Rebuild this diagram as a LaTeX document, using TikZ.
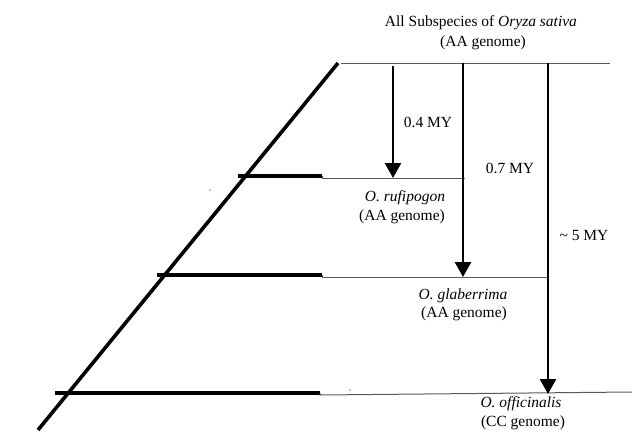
\documentclass[tikz,border=0pt]{standalone}
\usepackage{fontspec}
\setmainfont{Liberation Serif}
\usetikzlibrary{arrows.meta}
\begin{document}
\begin{tikzpicture}[x=1pt,y=-1pt,
  thin line/.style={line width=1pt,draw=black!65},
  thick line/.style={line width=4pt},
  arrowline/.style={line width=2.7pt,-{Triangle[width=16pt,length=15pt]}},
  lbl/.style={font=\fontsize{15.5}{18}\selectfont,inner sep=0pt,anchor=center}]
\useasboundingbox (0,0) rectangle (632,434);
% diagonal
\coordinate (dtop) at (338,63);
\coordinate (dbot) at (38,430);
\draw[line width=3.6pt] (dbot) -- (dtop);
% top line
\coordinate (t0) at (341,63);
\coordinate (t1) at (610,63);
\draw[thin line] (t0) -- (t1);
% rufipogon branch
\coordinate (r0) at (238,176);
\coordinate (r1) at (322,176);
\coordinate (r2) at (465,178);
\draw[thick line] (r0) -- (r1);
\draw[thin line] (r1) -- (322,178) -- (r2);
% glaberrima branch
\coordinate (g0) at (157,275);
\coordinate (g1) at (322,275);
\coordinate (g2) at (549,277);
\draw[thick line] (g0) -- (g1);
\draw[thin line] (g1) -- (322,277) -- (g2);
% officinalis branch
\coordinate (o0) at (55,393);
\coordinate (o1) at (320,393);
\coordinate (o2) at (632,392);
\draw[thick line] (o0) -- (o1);
\draw[thin line] (o1) -- (320,395) -- (o2);
% arrows
\coordinate (a1s) at (393,66);
\coordinate (a1e) at (393,178);
\coordinate (a2s) at (463,63);
\coordinate (a2e) at (463,277);
\coordinate (a3s) at (548,63);
\coordinate (a3e) at (548,394);
\draw[arrowline] (a1s) -- (a1e);
\draw[arrowline] (a2s) -- (a2e);
\draw[arrowline] (a3s) -- (a3e);
% labels
\node[lbl] (l1) at (428,122) {0.4 MY};
\node[lbl] (l2) at (510,168) {0.7 MY};
\node[lbl] (l3) at (584,235) {\textasciitilde{} 5 MY};
\node[lbl] (sat) at (481,23) {All Subspecies of \textit{Oryza sativa}};
\node[lbl] (sat2) at (483,43) {(AA genome)};
\node[lbl] (ruf) at (405,198) {\textit{O. rufipogon}};
\node[lbl] (ruf2) at (402,217) {(AA genome)};
\node[lbl] (gla) at (463,296) {\textit{O. glaberrima}};
\node[lbl] (gla2) at (464,314) {(AA genome)};
\node[lbl] (off) at (521,404) {\textit{O. officinalis}};
\node[lbl] (off2) at (523,423) {(CC genome)};
% stray dots
\fill (210,190) circle (0.6);
\fill (350,390) circle (0.6);
\end{tikzpicture}
\end{document}
